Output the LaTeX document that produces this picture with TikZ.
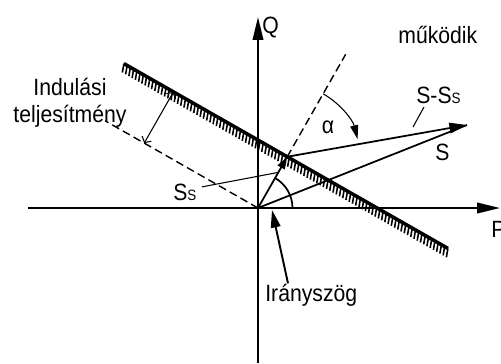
\documentclass[tikz,border=0pt]{standalone}
\usepackage{fontspec}
\newfontfamily\lblfont{Liberation Sans}[FakeStretch=0.9]
\usepackage{tikz}
\usetikzlibrary{arrows.meta, calc}
\newcommand{\subS}{{\fontsize{8.5}{9}\selectfont S}}

\begin{document}
\begin{tikzpicture}[
    lbl/.style={font=\lblfont\fontsize{13.4}{16}\selectfont, inner sep=0pt},
    axis/.style={line width=1.1pt, -{Triangle[length=13pt,width=6pt]}},
    vec/.style={line width=1pt},
    guide/.style={line width=0.8pt, dash pattern=on 4.5pt off 2.5pt},
    wall/.style={line width=2pt},
    hatchtick/.style={line width=0.9pt},
    thin/.style={line width=0.6pt}
  ]
  \useasboundingbox (-5.16,-3.10) rectangle (4.86,4.16);

  % Axes
  \coordinate (O) at (0,0);
  \coordinate (xl) at (-4.60,0);
  \coordinate (xr) at (4.84,0);
  \coordinate (yb) at (0,-3.10);
  \coordinate (yt) at (0,3.82);
  \draw[axis] (xl) -- (xr);
  \draw[axis] (yb) -- (yt);
  \node[lbl, anchor=base west] (Q) at (0.08,3.50) {Q};
  \node[lbl, anchor=base west] (P) at (4.66,-0.58) {P};

  % Limit line with hatching
  \coordinate (F) at (60.3:1.18);
  \coordinate (h1) at ($(F)+(150.3:3.76)$);
  \coordinate (h2) at ($(F)+(-29.7:3.70)$);
  \foreach \i in {0,...,100}
    \draw[hatchtick] ($(h1)!\i/100!(h2)$) -- ++(-100:0.18);
  \draw[wall] (h1) -- (h2);

  % Dashed guides
  \coordinate (D) at (150.3:3.52);
  \coordinate (N) at (60.3:3.54);
  \draw[guide] (O) -- (D);
  \draw[guide] (F) -- (N);

  % Starting power
  \coordinate (d1) at (150.3:2.62);
  \coordinate (d2) at ($(h1)!(d1)!(h2)$);
  \draw[thin, {Straight Barb[length=2.5pt,width=6pt]}-{Straight Barb[length=2.5pt,width=6pt]}] (d1) -- (d2);
  \node[lbl, anchor=base] (indul) at (-3.76,2.26) {Indulási};
  \node[lbl, anchor=base] (telj) at (-3.76,1.72) {teljesítmény};

  % Vectors
  \coordinate (T) at (4.18,1.66);
  \draw[vec] (O) -- (T);
  \draw[vec, -{Triangle[length=10pt,width=6pt]}] (F) -- (T);
  \draw[vec, -{Triangle[length=7pt,width=4.5pt]}] (O) -- (F);

  % Angles
  \draw[vec] (0.69,0) arc[start angle=0, end angle=60.3, radius=0.69];
  \draw[thin, -{Triangle[length=8pt,width=4.5pt]}] ($(F)+(60.3:1.45)$) arc[start angle=60.3, end angle=14, radius=1.45];
  \node[lbl, anchor=base] (alpha) at (1.40,1.50) {α};

  % Labels
  \node[lbl, anchor=base west] (ssd) at (3.16,2.10) {S-S\subS};
  \coordinate (ssdp) at (3.10,1.62);
  \draw[thin] ([shift={(0.16,-0.08)}]ssd.base west) -- (ssdp);
  \node[lbl, anchor=base west] (s) at (3.54,0.96) {S};
  \node[lbl, anchor=base west] (ss) at (-1.70,0.16) {S\subS};
  \coordinate (ssp) at (60.3:0.82);
  \draw[thin] ([shift={(0.1,0.1)}]ss.east) -- (ssp);
  \node[lbl, anchor=base west] (irany) at (0.14,-1.86) {Irányszög};
  \coordinate (ip) at (0.28,-0.04);
  \draw[vec, line width=1.1pt, -{Triangle[length=10pt,width=5.5pt]}] ([xshift=0.46cm]irany.north west) -- (ip);
  \node[lbl, anchor=base west] (mukodik) at (2.80,3.30) {működik};
\end{tikzpicture}
\end{document}
